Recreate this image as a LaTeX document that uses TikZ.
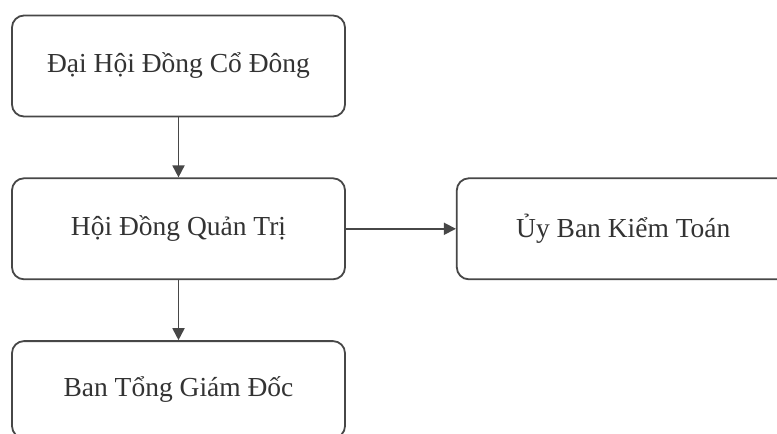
\documentclass[tikz,border=0pt]{standalone}
\usepackage{fontspec}
\setmainfont{Liberation Serif}
\usetikzlibrary{positioning,arrows.meta}

\tikzset{
	orgbox/.style={draw=black!72, line width=1.8pt, rounded corners=12pt, fill=white,
		minimum width=333pt, minimum height=101pt, inner sep=0pt,
		font=\fontsize{27.5}{33}\selectfont, text=black!80},
	orgarrow/.style={draw=black!72, line width=1.8pt, -{Triangle[length=12pt,width=12pt]}}
}

\begin{document}
\begin{tikzpicture}[x=1pt, y=-1pt]
		
			\useasboundingbox (0,0) rectangle (777,434);
			\clip (0,0) rectangle (777,434);
			\fill[white] (0,0) rectangle (777,434);
			
			\node[orgbox] (dhdcd) at (178.5, 66) {Đại Hội Đồng Cổ Đông};
			\node[orgbox, below=60pt of dhdcd] (hdqt) {Hội Đồng Quản Trị};
			\node[orgbox, below=60pt of hdqt, minimum height=97pt] (btgd) {Ban Tổng Giám Đốc};
			\node[orgbox, right=110pt of hdqt] (ubkt) {Ủy Ban Kiểm Toán};
			
			\draw[orgarrow] (dhdcd) -- (hdqt);
			\draw[orgarrow] (hdqt) -- (btgd);
			\draw[orgarrow] (hdqt) -- (ubkt);
		
		\end{tikzpicture}
\end{document}
